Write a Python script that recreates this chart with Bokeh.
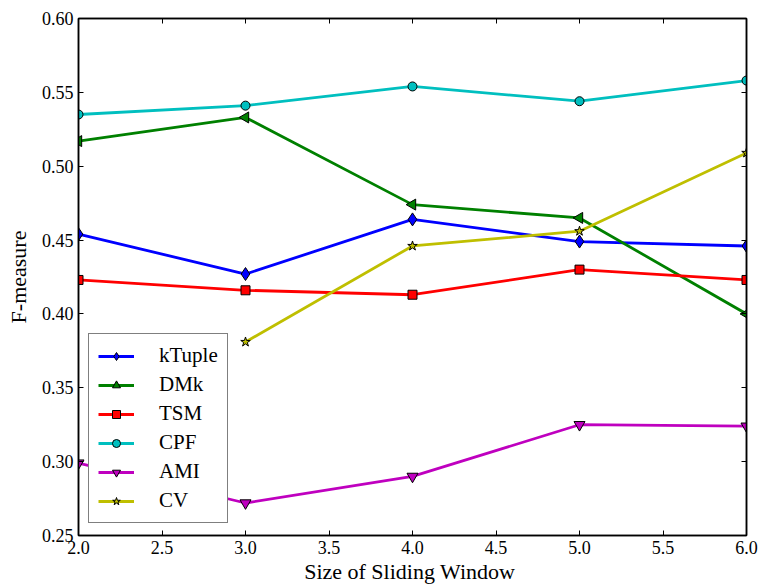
import math
from bokeh.plotting import figure
from bokeh.models import (LinearAxis, FixedTicker, Legend, LegendItem, Range1d)
from bokeh.embed import file_html
from bokeh.resources import INLINE

# ---- data ----
window = [2, 3, 4, 5, 6]
ktuple = [0.454, 0.427, 0.464, 0.449, 0.446]
dmk = [0.517, 0.533, 0.474, 0.465, 0.400]
tsm = [0.423, 0.416, 0.413, 0.430, 0.423]
cpf = [0.535, 0.541, 0.554, 0.544, 0.558]
ami = [0.299, 0.272, 0.290, 0.325, 0.324]
cv = [float("nan"), 0.381, 0.446, 0.456, 0.509]

x_ticks = [2.0, 2.5, 3.0, 3.5, 4.0, 4.5, 5.0, 5.5, 6.0]
x_tick_labels = ["2.0", "2.5", "3.0", "3.5", "4.0", "4.5", "5.0", "5.5", "6.0"]
y_ticks = [0.25, 0.30, 0.35, 0.40, 0.45, 0.50, 0.55, 0.60]
y_tick_labels = ["0.25", "0.30", "0.35", "0.40", "0.45", "0.50", "0.55", "0.60"]

FONT = "Liberation Serif"

p = figure(width=760, height=586, output_backend="svg", toolbar_location=None,
           x_range=Range1d(2, 6), y_range=Range1d(0.25, 0.60),
           min_border_left=78, min_border_right=14, min_border_top=18,
           min_border_bottom=51)
p.grid.visible = False
p.outline_line_color = "black"
p.outline_line_width = 1.5
p.background_fill_color = "white"
p.border_fill_color = "white"


def style_axis(ax, ticks, labels, show_labels=True):
    ax.ticker = FixedTicker(ticks=ticks)
    ax.major_label_overrides = {t: l for t, l in zip(ticks, labels)}
    ax.major_tick_in = 5
    ax.major_tick_out = 0
    ax.minor_tick_line_color = None
    ax.axis_line_color = "black"
    ax.axis_line_width = 1.5
    ax.major_tick_line_color = "black"
    ax.major_tick_line_width = 1
    ax.major_label_text_font = FONT
    ax.major_label_text_color = "black"
    if show_labels:
        ax.major_label_text_font_size = "18px"
        ax.major_label_standoff = 5
    else:
        ax.major_label_text_font_size = "0px"
        ax.major_label_standoff = 0


style_axis(p.xaxis[0], x_ticks, x_tick_labels)
style_axis(p.yaxis[0], y_ticks, y_tick_labels)
p.xaxis[0].axis_label = "Size of  Sliding Window"
p.yaxis[0].axis_label = "F-measure"
for ax in (p.xaxis[0], p.yaxis[0]):
    ax.axis_label_text_font = FONT
    ax.axis_label_text_font_style = "normal"
    ax.axis_label_text_font_size = "22px"
    ax.axis_label_text_color = "black"
p.xaxis[0].axis_label_standoff = 2
p.yaxis[0].axis_label_standoff = 8

top = LinearAxis()
right = LinearAxis()
style_axis(top, x_ticks, ["" for _ in x_ticks], show_labels=False)
style_axis(right, y_ticks, ["" for _ in y_ticks], show_labels=False)
p.add_layout(top, "above")
p.add_layout(right, "right")

series = [
    ("kTuple", ktuple, "#0000ff", "diamond", 13, 0.0),
    ("DMk", dmk, "#008000", "triangle", 11, math.pi / 2),
    ("TSM", tsm, "#ff0000", "square", 9, 0.0),
    ("CPF", cpf, "#00bfbf", "circle", 9, 0.0),
    ("AMI", ami, "#bf00bf", "inverted_triangle", 11, 0.0),
    ("CV", cv, "#bfbf00", "star", 10, 0.0),
]

items = []
for name, vals, color, marker, size, angle in series:
    ln = p.line(window, vals, line_color=color, line_width=2.8)
    sc = p.scatter(window, vals, marker=marker, size=size, angle=angle,
                   fill_color=color, line_color="black", line_width=1)
    items.append(LegendItem(label=name, renderers=[ln, sc]))

legend = Legend(items=items, location=(10, 12))
legend.label_text_font = FONT
legend.label_text_font_size = "21px"
legend.label_text_color = "black"
legend.glyph_width = 36
legend.glyph_height = 20
legend.label_height = 20
legend.label_standoff = 25
legend.spacing = 4
legend.padding = 9
legend.margin = 0
legend.border_line_color = "black"
legend.border_line_width = 1.5
legend.background_fill_color = "white"
legend.background_fill_alpha = 1.0
p.add_layout(legend, "center")

open("out.html", "w").write(file_html(p, INLINE))
